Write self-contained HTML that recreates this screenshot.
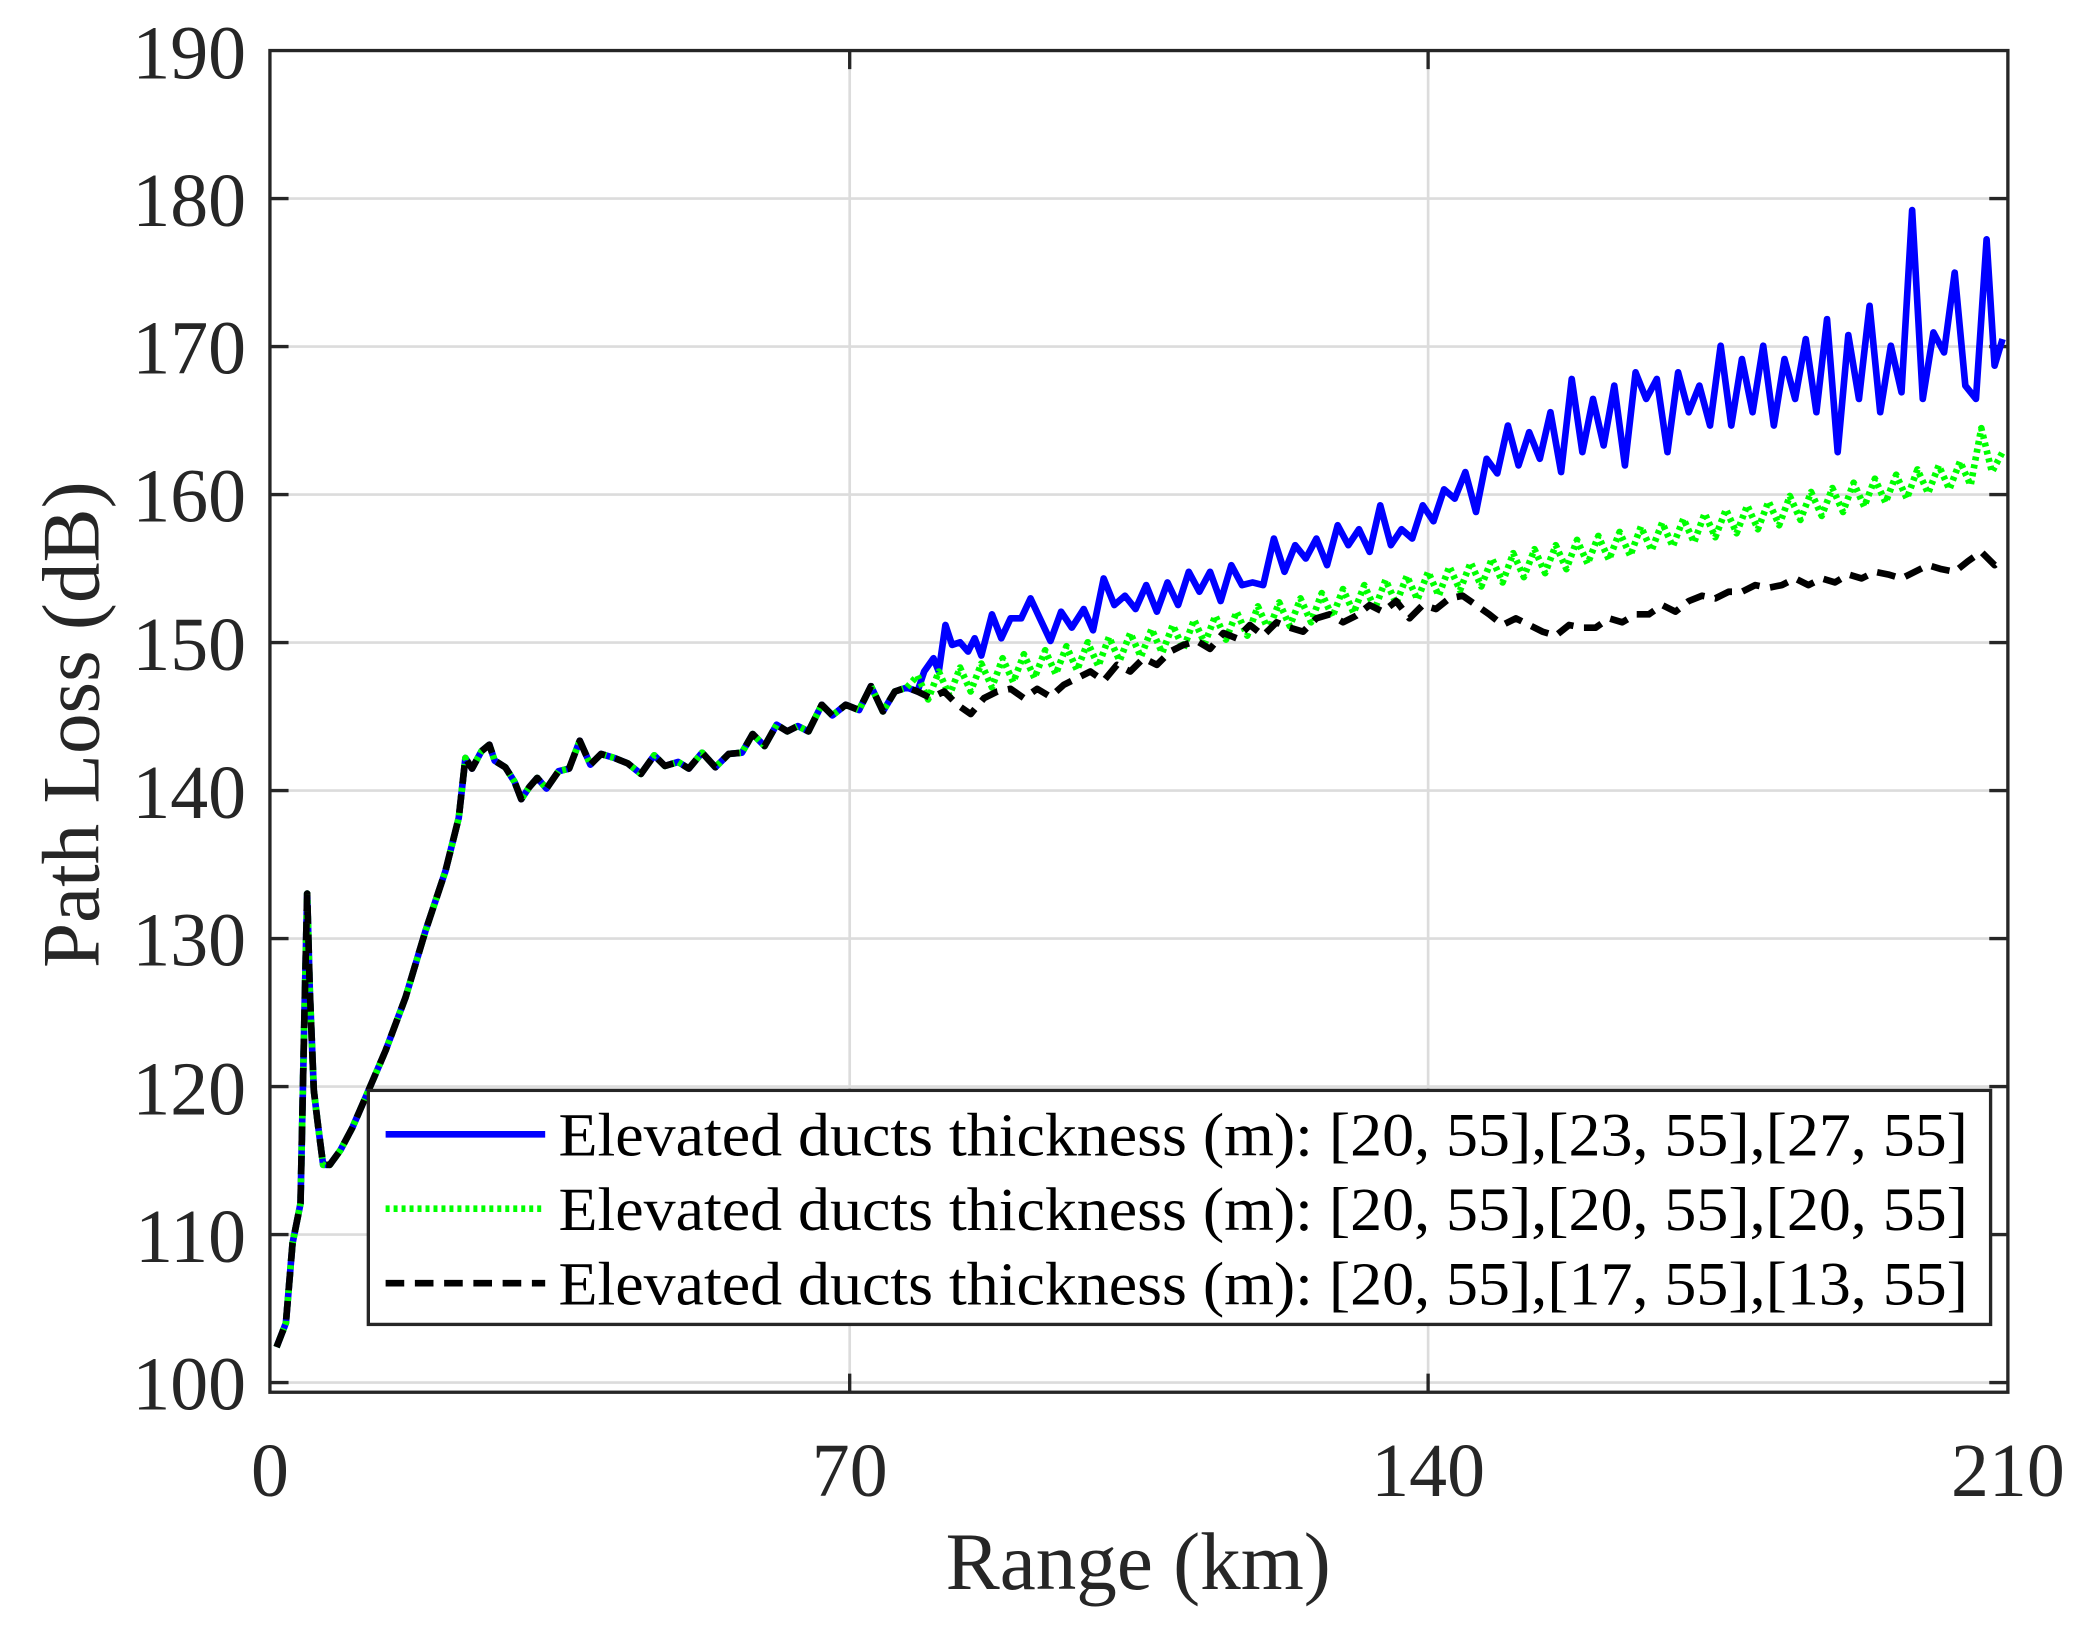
<!DOCTYPE html>
<html><head><meta charset="utf-8"><style>html,body{margin:0;padding:0;background:#fff}</style></head>
<body>
<svg width="2085" height="1634" viewBox="0 0 1568 1228.8" xmlns="http://www.w3.org/2000/svg" font-family="Liberation Serif, serif" fill="#262626">
<rect x="0" y="0" width="1568" height="1229" fill="#fff"/>
<g stroke="#dcdcdc" stroke-width="2">
<line x1="203" x2="1510" y1="149.3" y2="149.3"/><line x1="203" x2="1510" y1="260.6" y2="260.6"/>
<line x1="203" x2="1510" y1="371.9" y2="371.9"/><line x1="203" x2="1510" y1="483.2" y2="483.2"/>
<line x1="203" x2="1510" y1="594.5" y2="594.5"/><line x1="203" x2="1510" y1="705.8" y2="705.8"/>
<line x1="203" x2="1510" y1="817.1" y2="817.1"/><line x1="203" x2="1510" y1="928.4" y2="928.4"/>
<line x1="203" x2="1510" y1="1039.7" y2="1039.7"/>
<line x1="639" x2="639" y1="38" y2="1047"/><line x1="1074" x2="1074" y1="38" y2="1047"/>
</g>
<g stroke="#262626" stroke-width="2.5">
<rect x="203" y="38" width="1307" height="1009" fill="none"/>
<path d="M203 149.3h14M203 260.6h14M203 371.9h14M203 483.2h14M203 594.5h14M203 705.8h14M203 817.1h14M203 928.4h14M203 1039.7h14
M1510 149.3h-14M1510 260.6h-14M1510 371.9h-14M1510 483.2h-14M1510 594.5h-14M1510 705.8h-14M1510 817.1h-14M1510 928.4h-14M1510 1039.7h-14
M639 1047v-14M1074 1047v-14M639 38v14M1074 38v14"/>
</g>
<g font-size="57" text-anchor="end">
<text x="185" y="59">190</text><text x="185" y="170">180</text><text x="185" y="281">170</text>
<text x="185" y="392">160</text><text x="185" y="504">150</text><text x="185" y="615">140</text>
<text x="185" y="726">130</text><text x="185" y="838">120</text><text x="185" y="949">110</text>
<text x="185" y="1060">100</text>
</g>
<g font-size="57" text-anchor="middle">
<text x="203" y="1125">0</text><text x="639" y="1125">70</text><text x="1074" y="1125">140</text><text x="1510" y="1125">210</text>
</g>
<text x="856" y="1195" font-size="61" text-anchor="middle">Range (km)</text>
<text transform="translate(74,545) rotate(-90)" font-size="61" text-anchor="middle">Path Loss (dB)</text>

<g fill="none" stroke-linejoin="round">
<polyline stroke="#0000ff" stroke-width="5" points="208,1013 215,995 220,935 226,905 229,760 231,672 233,745 236,820 239,845 243,876 248,876 256,865 265,848 275,825 290,790 305,750 320,700 335,655 345,615 350,570 355,578 362,565 368,560 372,572 380,577 387,588 392,601 398,592 404,585 411,593 420,580 428,578 436,557 444,575 452,567 462,570 472,574 482,582 492,568 500,576 510,573 518,578 528,566 538,577 548,567 558,566 566,552 575,561 584,545 592,550 600,546 608,550 618,530 626,538 636,530 646,534 655,516 664,535 673,520 682,517 690,520 695,505 702,495 706,505 711,470 716,485 722,483 728,490 733,480 738,493 746,462 753,480 760,465 768,465 775,450 782,465 790,482 798,460 806,472 815,458 822,474 830,435 838,455 846,448 854,458 862,440 870,460 878,438 886,455 894,430 902,445 910,430 918,452 926,425 934,440 942,438 950,440 958,405 966,430 974,410 982,420 990,405 998,425 1006,395 1014,410 1022,398 1030,415 1038,380 1046,410 1054,398 1062,405 1070,380 1078,392 1086,368 1094,375 1102,355 1110,385 1118,345 1126,356 1134,320 1142,350 1150,325 1158,345 1166,310 1174,355 1182,285 1190,340 1198,300 1206,335 1214,290 1222,350 1230,280 1238,300 1246,285 1254,340 1262,280 1270,310 1278,290 1286,320 1294,260 1302,320 1310,270 1318,310 1326,260 1334,320 1342,270 1350,300 1358,255 1366,310 1374,240 1382,340 1390,252 1398,300 1406,230 1414,310 1422,260 1430,295 1438,158 1446,300 1454,250 1462,265 1470,205 1478,290 1486,300 1494,180 1500,275 1506,255"/>
<polyline stroke="#00ff00" stroke-width="5" stroke-dasharray="3,3" points="208,1013 215,995 220,935 226,905 229,760 231,672 233,745 236,820 239,845 243,876 248,876 256,865 265,848 275,825 290,790 305,750 320,700 335,655 345,615 350,570 355,578 362,565 368,560 372,572 380,577 387,588 392,601 398,592 404,585 411,593 420,580 428,578 436,557 444,575 452,567 462,570 472,574 482,582 492,568 500,576 510,573 518,578 528,566 538,577 548,567 558,566 566,552 575,561 584,545 592,550 600,546 608,550 618,530 626,538 636,530 646,534 655,516 664,535 673,520 682,517 690,508 698,526 706,505 714,523 722,502 730,520 738,499 746,517 754,495 762,513 770,492 778,510 786,489 794,507 802,486 810,504 818,483 826,501 834,479 842,497 850,476 858,494 866,473 874,491 882,470 890,488 898,466 906,484 914,463 922,481 930,460 938,478 946,456 954,474 962,453 970,471 978,450 986,468 994,446 1002,464 1010,443 1018,461 1026,440 1034,458 1042,436 1050,454 1058,433 1066,451 1074,430 1082,448 1090,426 1098,444 1106,423 1114,441 1122,420 1130,438 1138,416 1146,434 1154,413 1162,431 1170,410 1178,428 1186,406 1194,424 1202,403 1210,421 1218,400 1226,418 1234,396 1242,414 1250,393 1258,411 1266,390 1274,408 1282,386 1290,404 1298,383 1306,401 1314,380 1322,398 1330,377 1338,395 1346,373 1354,391 1362,370 1370,388 1378,367 1386,385 1394,363 1402,381 1410,360 1418,378 1426,357 1434,375 1442,353 1450,371 1458,350 1466,368 1474,347 1482,365 1490,322 1498,355 1506,340"/>
<polyline stroke="#000" stroke-width="5" stroke-dasharray="14,8" points="208,1013 215,995 220,935 226,905 229,760 231,672 233,745 236,820 239,845 243,876 248,876 256,865 265,848 275,825 290,790 305,750 320,700 335,655 345,615 350,570 355,578 362,565 368,560 372,572 380,577 387,588 392,601 398,592 404,585 411,593 420,580 428,578 436,557 444,575 452,567 462,570 472,574 482,582 492,568 500,576 510,573 518,578 528,566 538,577 548,567 558,566 566,552 575,561 584,545 592,550 600,546 608,550 618,530 626,538 636,530 646,534 655,516 664,535 673,520 682,517 690,520 700,525 710,520 720,530 730,537 740,525 750,520 760,518 770,525 780,518 790,524 800,515 810,510 820,505 830,512 840,500 850,505 860,495 870,500 880,490 890,485 900,482 910,488 920,476 930,480 940,470 950,478 960,468 970,472 980,475 990,465 1000,462 1010,468 1020,463 1030,455 1040,460 1050,452 1060,465 1070,455 1080,458 1090,450 1100,448 1110,455 1120,462 1130,470 1140,465 1150,470 1160,475 1170,478 1180,470 1190,472 1200,472 1210,465 1220,468 1230,462 1240,462 1250,455 1260,460 1270,452 1280,448 1290,450 1300,445 1310,445 1320,440 1330,442 1340,440 1350,435 1360,440 1370,435 1380,438 1390,432 1400,435 1410,430 1420,432 1430,435 1440,430 1450,425 1460,428 1470,430 1480,422 1490,415 1500,425 1506,420"/>
</g>

<rect x="277" y="820" width="1220" height="176" fill="#fff" stroke="#262626" stroke-width="2.5"/>
<line x1="290" x2="410" y1="853" y2="853" stroke="#0000ff" stroke-width="5"/>
<line x1="290" x2="410" y1="909" y2="909" stroke="#00ff00" stroke-width="5" stroke-dasharray="3,3"/>
<line x1="290" x2="410" y1="965" y2="965" stroke="#000" stroke-width="5" stroke-dasharray="14,8"/>
<g font-size="46" fill="#000">
<text x="420" y="869" textLength="1060" lengthAdjust="spacingAndGlyphs">Elevated ducts thickness (m): [20, 55],[23, 55],[27, 55]</text>
<text x="420" y="925" textLength="1060" lengthAdjust="spacingAndGlyphs">Elevated ducts thickness (m): [20, 55],[20, 55],[20, 55]</text>
<text x="420" y="981" textLength="1060" lengthAdjust="spacingAndGlyphs">Elevated ducts thickness (m): [20, 55],[17, 55],[13, 55]</text>
</g>
</svg>
</body></html>
